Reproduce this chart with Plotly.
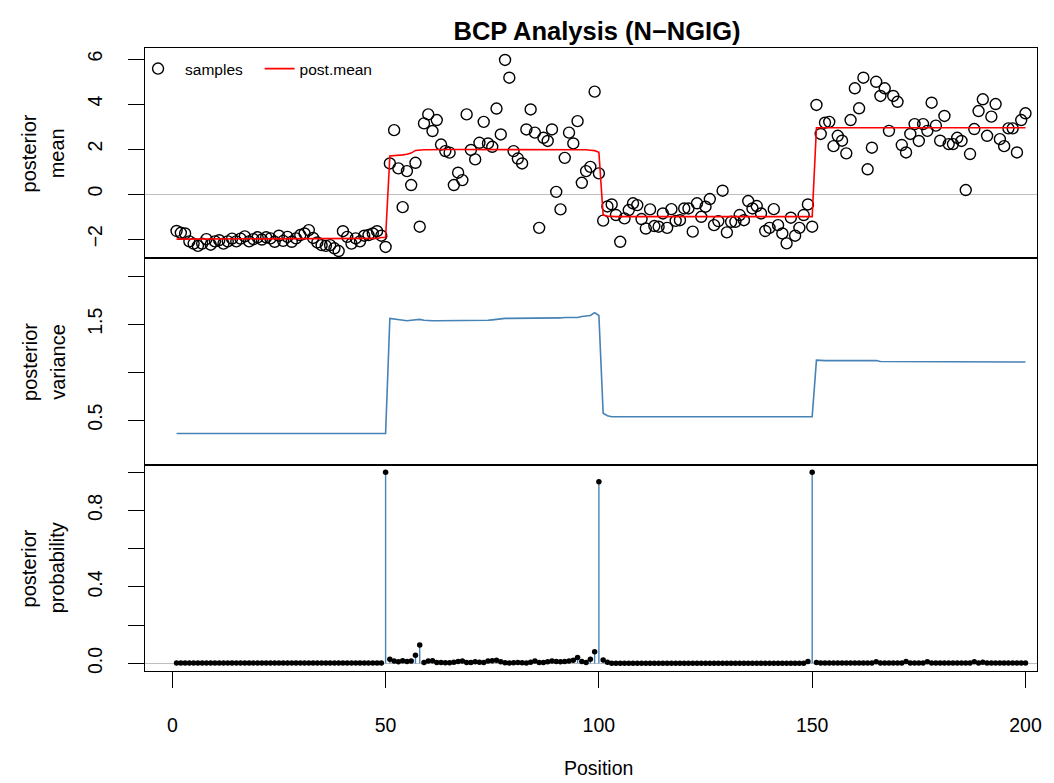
import plotly.graph_objects as go

position = list(range(1, 201))

samples = [
    -1.64, -1.72, -1.75, -2.10, -2.20, -2.30, -2.20, -2.00, -2.25, -2.10,
    -2.05, -2.20, -2.10, -1.98, -2.10, -1.98, -1.88, -2.10, -2.00, -1.92,
    -2.02, -1.92, -1.97, -2.12, -1.85, -2.08, -1.90, -2.12, -1.97, -1.82,
    -1.75, -1.60, -1.95, -2.15, -2.27, -2.30, -2.27, -2.41, -2.53, -1.65,
    -1.90, -2.20, -1.97, -2.10, -1.85, -1.82, -1.75, -1.65, -1.85, -2.35,
    1.36, 2.84, 1.14, -0.58, 1.02, 0.40, 1.39, -1.45, 3.14, 3.54,
    2.80, 3.29, 2.20, 1.91, 1.84, 0.40, 0.95, 0.62, 3.54, 1.96,
    1.54, 2.28, 3.21, 2.25, 2.10, 3.80, 2.65, 5.96, 5.17, 1.91,
    1.58, 1.36, 2.87, 3.76, 2.73, -1.50, 2.50, 2.36, 2.87, 0.10,
    -0.68, 1.61, 2.73, 2.25, 3.24, 0.50, 1.02, 1.21, 4.55, 0.92,
    -1.18, -0.55, -0.46, -0.93, -2.12, -1.08, -0.71, -0.41, -0.49, -1.11,
    -1.53, -0.68, -1.42, -1.45, -0.86, -1.50, -0.67, -1.19, -1.16, -0.64,
    -0.64, -1.67, -0.41, -1.01, -0.56, -0.22, -1.38, -1.20, 0.15, -1.70,
    -1.23, -1.23, -0.93, -1.16, -0.31, -0.64, -0.53, -0.86, -1.64, -1.50,
    -0.67, -1.38, -1.75, -2.19, -1.05, -1.85, -1.50, -0.93, -0.46, -1.45,
    3.96, 2.67, 3.17, 3.21, 2.13, 2.59, 2.37, 1.81, 3.29, 4.70,
    3.81, 5.17, 1.10, 2.06, 4.99, 4.36, 4.70, 2.81, 4.36, 4.10,
    2.18, 1.85, 2.67, 3.11, 2.36, 3.11, 2.81, 4.06, 3.04, 2.37,
    3.47, 2.22, 2.22, 2.50, 2.36, 0.18, 1.78, 2.89, 3.69, 4.21,
    2.59, 3.44, 4.00, 2.44, 2.13, 2.92, 2.92, 1.85, 3.29, 3.59,
]

post_mean = (
    [-2.00] * 45 + [-1.99, -1.98, -1.97, -1.93, -1.93]
    + [1.69, 1.70, 1.72, 1.74, 1.77, 1.82, 1.94, 1.97, 1.97, 1.97]
    + [1.98] * 15 + [1.99] * 15
    + [1.98, 1.98, 1.98, 1.98, 1.98, 1.98, 1.97, 1.95, 1.93, 1.86]
    + [-0.93, -0.98] + [-1.00] * 48
    + [2.95] * 50
)

post_var = (
    [0.36] * 50
    + [1.56, 1.555, 1.55, 1.545, 1.535, 1.54, 1.545, 1.55, 1.54]
    + [1.535] * 14
    + [1.54, 1.545, 1.55]
    + [1.56] * 8
    + [1.565] * 7
    + [1.57] * 4
    + [1.58, 1.585, 1.59, 1.62, 1.59]
    + [0.57, 0.545] + [0.535] * 48
    + [1.125] + [1.12] * 14 + [1.11] * 7 + [1.105] * 28
)

post_prob = (
    [0.002] * 49 + [1.00]
    + [0.021, 0.012, 0.008, 0.014, 0.010, 0.012, 0.043, 0.096, 0.005, 0.012,
       0.014, 0.004, 0.004, 0.003, 0.003, 0.006, 0.010, 0.012, 0.005, 0.005,
       0.008, 0.006, 0.004, 0.012, 0.014, 0.016, 0.008, 0.003, 0.002, 0.003,
       0.004, 0.003, 0.002, 0.006, 0.012, 0.005, 0.004, 0.008, 0.012, 0.010,
       0.008, 0.010, 0.012, 0.016, 0.031, 0.010, 0.004, 0.021, 0.061, 0.95]
    + [0.017, 0.006] + [0.001] * 46 + [0.010, 1.00]
    + [0.005] + [0.002] * 13 + [0.008] + [0.002] * 6 + [0.010] + [0.002] * 4
    + [0.008] + [0.002] * 10 + [0.008] + [0.002] + [0.006] + [0.002] * 10
)

title_text = "BCP Analysis (N\u2212NGIG)"
x_ticks = [0, 50, 100, 150, 200]
top_ticks = [-2, 0, 2, 4, 6]
mid_ticks = [0.5, 1.0, 1.5, 2.0]
mid_labels = ["0.5", "", "1.5", ""]
bot_ticks = [0.0, 0.2, 0.4, 0.6, 0.8, 1.0]
bot_labels = ["0.0", "", "0.4", "", "0.8", ""]

FONT = "Liberation Sans, Arial, sans-serif"
BLUE = "#4682B4"
GRAY = "#BEBEBE"

# stems for probabilities
stem_x, stem_y = [], []
for p, v in zip(position, post_prob):
    stem_x += [p, p, None]
    stem_y += [0, v, None]

fig = go.Figure()
fig.add_trace(go.Scatter(
    x=position, y=samples, mode="markers", name="samples", legend="legend",
    marker=dict(symbol="circle-open", size=11, color="black", line=dict(width=1.4, color="black")),
    xaxis="x3", yaxis="y3"))
fig.add_trace(go.Scatter(
    x=position, y=post_mean, mode="lines", name="post.mean", legend="legend2",
    line=dict(color="red", width=1.6), xaxis="x3", yaxis="y3"))
fig.add_trace(go.Scatter(
    x=position, y=post_var, mode="lines", showlegend=False,
    line=dict(color=BLUE, width=1.6), xaxis="x2", yaxis="y2"))
fig.add_trace(go.Scatter(
    x=stem_x, y=stem_y, mode="lines", showlegend=False,
    line=dict(color=BLUE, width=1.4), xaxis="x", yaxis="y"))
fig.add_trace(go.Scatter(
    x=position, y=post_prob, mode="markers", showlegend=False,
    marker=dict(symbol="circle", size=5.5, color="black"), xaxis="x", yaxis="y"))

xr = [-6.4, 202.7]
b_top = 206 / 623
m_top = 413 / 623

common_axis = dict(showline=True, mirror=True, linecolor="black", linewidth=1.2,
                   showgrid=False, zeroline=False)
tickfont = dict(family=FONT, size=19.5, color="black")
legfont = dict(family=FONT, size=15.5, color="black")

fig.update_layout(
    width=1054, height=783,
    margin=dict(l=145, r=14, t=48, b=112),
    paper_bgcolor="white", plot_bgcolor="white",
    font=dict(family=FONT, color="black"),
    title=dict(text="<b>" + title_text + "</b>", x=597 / 1054, xanchor="center",
               y=1 - 31 / 783, yanchor="middle", yref="container",
               font=dict(family=FONT, size=25.5, color="black")),
    showlegend=True,
    legend=dict(orientation="h", x=-14 / 895, xanchor="left", y=1 - 4 / 623, yanchor="top",
                bgcolor="rgba(0,0,0,0)", font=legfont, itemwidth=44),
    legend2=dict(orientation="h", x=(260 - 145) / 895, xanchor="left", y=1 - 4 / 623, yanchor="top",
                 bgcolor="rgba(0,0,0,0)", font=legfont, itemwidth=30),
    xaxis=dict(domain=[0, 1], range=xr, anchor="y", tickvals=x_ticks, ticks="outside",
               ticklen=16, tickwidth=1.2, tickcolor="black", tickfont=tickfont,
               ticklabelstandoff=20, **common_axis),
    xaxis2=dict(domain=[0, 1], range=xr, anchor="y2", showticklabels=False, ticks="",
                matches="x", **common_axis),
    xaxis3=dict(domain=[0, 1], range=xr, anchor="y3", showticklabels=False, ticks="",
                matches="x", **common_axis),
    yaxis=dict(domain=[0, b_top], range=[-0.04, 1.038], tickvals=bot_ticks, ticktext=bot_labels,
               ticks="outside", ticklen=16, tickwidth=1.2, tickcolor="black", tickangle=-90,
               tickfont=tickfont, ticklabelstandoff=18, anchor="x",
               **{**common_axis, "zeroline": True}, zerolinecolor=GRAY, zerolinewidth=1.2),
    yaxis2=dict(domain=[b_top, m_top], range=[0.031, 2.19], tickvals=mid_ticks, ticktext=mid_labels,
                ticks="outside", ticklen=16, tickwidth=1.2, tickcolor="black", tickangle=-90,
                tickfont=tickfont, ticklabelstandoff=18, anchor="x2", **common_axis),
    yaxis3=dict(domain=[m_top, 1], range=[-2.84, 6.49], tickvals=top_ticks,
                ticktext=[str(t).replace("-", "\u2212") for t in top_ticks],
                ticks="outside", ticklen=16, tickwidth=1.2, tickcolor="black", tickangle=-90,
                tickfont=tickfont, ticklabelstandoff=18, anchor="x3",
                **{**common_axis, "zeroline": True}, zerolinecolor=GRAY, zerolinewidth=1.2),
)

def ytitle(lines, yc):
    for text, xpx in zip(lines, (29, 57)):
        fig.add_annotation(text=text, xref="paper", yref="paper", x=(xpx - 145) / 895, y=yc,
                           xanchor="center", yanchor="middle", textangle=-90, showarrow=False,
                           font=dict(family=FONT, size=20, color="black"))

ytitle(["posterior", "mean"], (1 + m_top) / 2)
ytitle(["posterior", "variance"], (b_top + m_top) / 2)
ytitle(["posterior", "probability"], b_top / 2)

fig.add_annotation(text="Position", xref="paper", yref="paper", x=(600 - 145) / 895,
                   y=(671 - 768) / 623, xanchor="center", yanchor="middle", showarrow=False,
                   font=dict(family=FONT, size=19.5, color="black"))

fig.write_html("out.html")
